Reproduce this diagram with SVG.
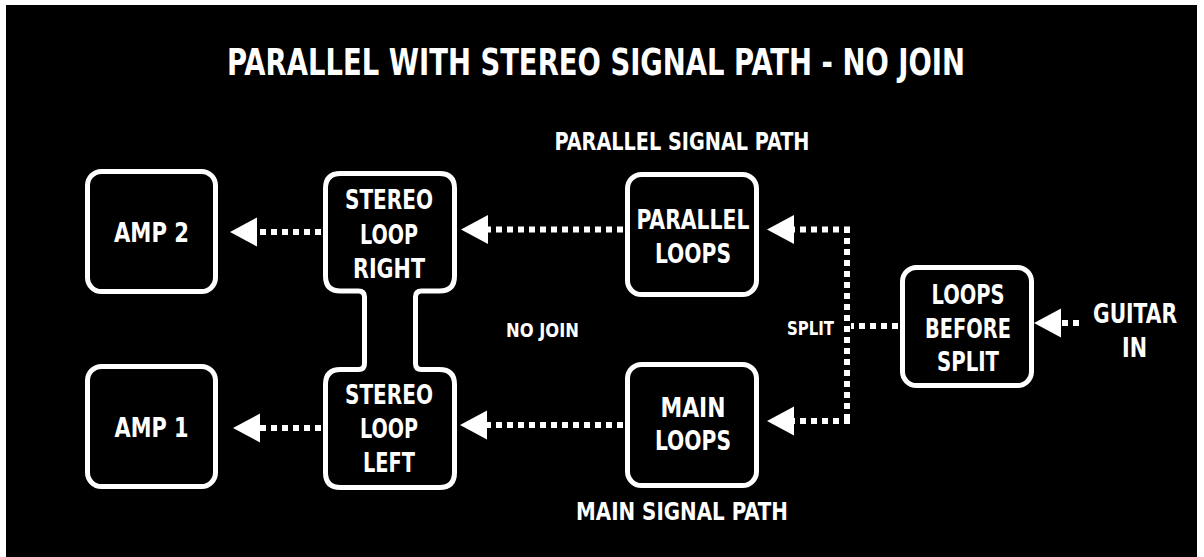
<svg xmlns="http://www.w3.org/2000/svg" width="1204" height="557" viewBox="0 0 1204 557">
  <defs>
    <style>
      .bg { fill: #000; }
      .box { fill: #000; stroke: #fff; stroke-width: 5; }
      .t { fill: #fff; font-family: "Liberation Sans Narrow", "DejaVu Sans Condensed", "Liberation Sans", sans-serif; font-weight: bold; text-anchor: middle; }
      .bt { font-size: 26px; }
      .dot { stroke: #fff; stroke-width: 6; stroke-dasharray: 6 5; fill: none; }
    </style>
    <marker id="ah" markerUnits="userSpaceOnUse" markerWidth="28" markerHeight="30" refX="0" refY="14.5" orient="auto" overflow="visible">
      <path d="M0,0 L27,14.5 L0,29 Z" fill="#fff"/>
    </marker>
  </defs>
  <rect x="0" y="0" width="1204" height="557" fill="#fff"/>
  <rect class="bg" x="6" y="5" width="1191" height="552"/>

  <text class="t" x="596" y="75" font-size="37" textLength="738" lengthAdjust="spacingAndGlyphs">PARALLEL WITH STEREO SIGNAL PATH - NO JOIN</text>
  <text class="t" x="682" y="150" font-size="25" textLength="255" lengthAdjust="spacingAndGlyphs">PARALLEL SIGNAL PATH</text>
  <text class="t" x="682" y="520" font-size="25" textLength="212" lengthAdjust="spacingAndGlyphs">MAIN SIGNAL PATH</text>
  <text class="t" x="542.5" y="337" font-size="19" textLength="73" lengthAdjust="spacingAndGlyphs">NO JOIN</text>
  <text class="t" x="810.5" y="335" font-size="20" textLength="47" lengthAdjust="spacingAndGlyphs">SPLIT</text>

  <g id="connectors">
    <line class="dot" x1="321" y1="232" x2="257" y2="232" marker-end="url(#ah)"/>
    <line class="dot" x1="321" y1="428" x2="260" y2="428" marker-end="url(#ah)"/>
    <line class="dot" x1="623" y1="229.5" x2="488" y2="229.5" marker-end="url(#ah)"/>
    <line class="dot" x1="623" y1="425" x2="487" y2="425" marker-end="url(#ah)"/>
    <line class="dot" x1="850" y1="229.5" x2="794" y2="229.5" marker-end="url(#ah)"/>
    <line class="dot" x1="850" y1="421" x2="794" y2="421" marker-end="url(#ah)"/>
    <line class="dot" x1="847" y1="227" x2="847" y2="424"/>
    <line class="dot" x1="898" y1="326" x2="851" y2="326"/>
    <line class="dot" x1="1079" y1="323" x2="1061" y2="323" marker-end="url(#ah)"/>
  </g>

  <g id="amp2">
    <rect class="box" x="87.5" y="171.5" width="128" height="120" rx="14"/>
    <text class="t bt" x="151.5" y="242" textLength="75" lengthAdjust="spacingAndGlyphs">AMP 2</text>
  </g>
  <g id="amp1">
    <rect class="box" x="87.5" y="366.5" width="128" height="120" rx="14"/>
    <text class="t bt" x="151.5" y="437" textLength="74" lengthAdjust="spacingAndGlyphs">AMP 1</text>
  </g>
  <g id="stereo-loop">
    <path class="box" d="M340.5,173.5 H439.5 Q454.5,173.5 454.5,188.5 V276 Q454.5,291 439.5,291 H421.5 Q415.5,291 415.5,297 V363.5 Q415.5,369.5 421.5,369.5 H439.5 Q454.5,369.5 454.5,384.5 V472.5 Q454.5,487.5 439.5,487.5 H340.5 Q325.5,487.5 325.5,472.5 V384.5 Q325.5,369.5 340.5,369.5 H358.5 Q364.5,369.5 364.5,363.5 V297 Q364.5,291 358.5,291 H340.5 Q325.5,291 325.5,276 V188.5 Q325.5,173.5 340.5,173.5 Z"/>
    <text class="t bt" x="389" y="209" textLength="88" lengthAdjust="spacingAndGlyphs">STEREO</text>
    <text class="t bt" x="389" y="244" textLength="58" lengthAdjust="spacingAndGlyphs">LOOP</text>
    <text class="t bt" x="389" y="278" textLength="72" lengthAdjust="spacingAndGlyphs">RIGHT</text>
    <text class="t bt" x="389" y="404" textLength="88" lengthAdjust="spacingAndGlyphs">STEREO</text>
    <text class="t bt" x="389" y="438" textLength="58" lengthAdjust="spacingAndGlyphs">LOOP</text>
    <text class="t bt" x="389" y="472" textLength="52" lengthAdjust="spacingAndGlyphs">LEFT</text>
  </g>
  <g id="parallel-loops">
    <rect class="box" x="627.5" y="174.5" width="129" height="120" rx="14"/>
    <text class="t bt" x="693" y="229" textLength="113" lengthAdjust="spacingAndGlyphs">PARALLEL</text>
    <text class="t bt" x="693" y="263" textLength="76" lengthAdjust="spacingAndGlyphs">LOOPS</text>
  </g>
  <g id="main-loops">
    <rect class="box" x="627.5" y="364.5" width="129" height="121" rx="14"/>
    <text class="t bt" x="693" y="417" textLength="65" lengthAdjust="spacingAndGlyphs">MAIN</text>
    <text class="t bt" x="693" y="450" textLength="76" lengthAdjust="spacingAndGlyphs">LOOPS</text>
  </g>
  <g id="loops-before-split">
    <rect class="box" x="902.5" y="267.5" width="129" height="118" rx="14"/>
    <text class="t bt" x="968" y="304" textLength="73" lengthAdjust="spacingAndGlyphs">LOOPS</text>
    <text class="t bt" x="968" y="338" textLength="86" lengthAdjust="spacingAndGlyphs">BEFORE</text>
    <text class="t bt" x="968" y="371" textLength="62" lengthAdjust="spacingAndGlyphs">SPLIT</text>
  </g>
  <g id="guitar-in">
    <text class="t bt" x="1135" y="323" textLength="84" lengthAdjust="spacingAndGlyphs">GUITAR</text>
    <text class="t bt" x="1134.5" y="357" textLength="25" lengthAdjust="spacingAndGlyphs">IN</text>
  </g>
</svg>
